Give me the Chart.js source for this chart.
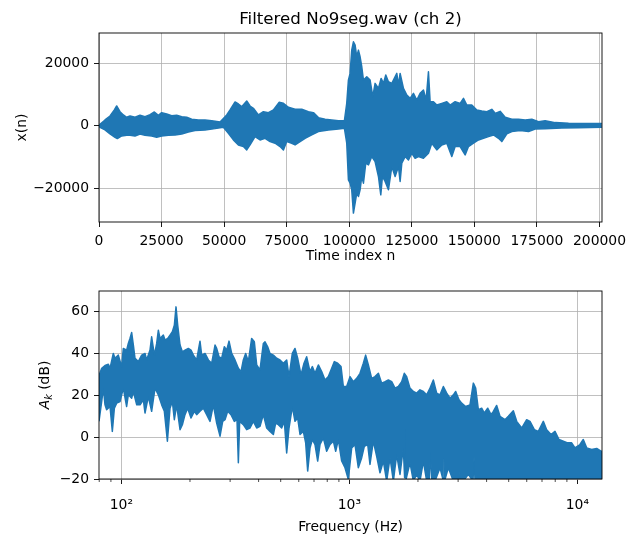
<!DOCTYPE html>
<html><head><meta charset="utf-8">
<script src="https://cdn.jsdelivr.net/npm/chart.js@4.4.0/dist/chart.umd.min.js"></script>
<style>
html,body{margin:0;padding:0;background:#fff;}
#wrap{position:relative;width:635px;height:538px;overflow:hidden;}
#c1{position:absolute;left:0;top:0;}
#c2{position:absolute;left:0;top:270px;}
</style></head><body>
<div id="wrap"><canvas id="c1" width="635" height="270"></canvas><canvas id="c2" width="635" height="268"></canvas></div>
<script>
// ---------- Top plot: time-signal envelope ----------
const topUpperN = [0,400,2400,4400,6130,7060,8400,9730,11060,12390,14390,16390,18390,20390,22120,23720,25050,27050,29050,31050,33050,35040,37040,39710,42370,45040,48370,51030,52370,54370,55700,57030,59030,60360,61690,63690,65690,67690,69690,71960,73690,75690,78350,81020,83680,85680,87680,90350,93010,95680,98070,99000,99670,100340,101000,101670,102340,103000,103670,104330,105000,105670,107000,108330,109400,110330,111670,112730,113660,114600,115660,117000,117660,119000,119660,120330,121660,123000,124320,125650,126990,128320,129650,130720,131650,132320,133650,134980,136980,138980,140310,142310,144310,145640,146970,148970,150970,152970,154970,156970,158300,160300,162300,164960,167630,170300,172960,175630,178290,182290,187620,192950,200940];
const topUpperV = [0,400,1810,3080,5000,6270,4460,3400,2660,3080,2660,3300,2870,3510,4360,3300,4150,3720,3190,3300,2870,2660,2020,1810,1810,1590,1170,3400,5000,7550,6910,6060,7870,6270,5530,3400,4460,4150,5000,7440,7120,5850,5210,5210,4460,4150,2550,2020,1810,1590,1590,7120,14560,16690,24130,26790,25720,22000,24130,22000,18820,14560,15630,14560,9250,13500,11910,15090,13500,16160,14030,13500,14560,16690,12970,16690,11910,9780,8720,10310,8190,10310,11370,8190,17220,7650,7650,6590,7120,7650,6590,7650,7120,8720,6590,6590,5000,4680,4460,5210,3930,4570,2660,2020,2020,1810,2020,1280,1590,960,740,640,640];
const topLowerN = [0,400,2400,4400,6400,7330,9060,11730,14390,16390,18390,21050,23050,25050,27720,30380,33050,35710,38380,42370,46370,49700,51700,53700,55700,57700,59030,60360,62360,64360,66360,68360,70360,72350,73690,75020,77020,78350,80350,82350,85010,87680,91680,95680,98070,99000,99670,100340,101000,101670,102340,103000,103670,104330,105000,105670,106600,107670,109000,110330,111670,112600,113260,114330,115660,117000,118330,119660,120330,121000,122320,123660,124990,126320,127650,129650,131650,132980,134980,136980,138980,140980,142310,144310,146310,147640,149640,151640,153640,155640,157640,159640,160970,162970,164960,168300,171630,174290,178290,184950,191610,200940];
const topLowerV = [0,-530,-1380,-2660,-3720,-4150,-3300,-2980,-3300,-2660,-3080,-3300,-3720,-3300,-3080,-2980,-2660,-2020,-1590,-1380,-960,-530,-2440,-4570,-6170,-6700,-7760,-6170,-3510,-4570,-4040,-5100,-5630,-6700,-7760,-5100,-5630,-6170,-5100,-4040,-2980,-1910,-1380,-1060,-850,-5630,-17330,-18390,-20520,-27960,-24770,-21580,-22640,-20520,-16260,-18390,-12010,-12540,-9890,-11480,-16260,-22110,-16260,-17860,-20520,-13070,-16260,-13070,-17860,-12010,-9890,-10950,-8820,-10420,-9890,-10420,-8820,-5630,-7760,-6170,-5630,-9890,-6700,-6700,-9350,-6700,-5630,-4570,-4040,-3510,-2980,-4040,-5100,-2660,-1910,-1590,-1910,-1060,-960,-740,-640,-530];
const topXTicks = [0,25000,50000,75000,100000,125000,150000,175000,200000];
const topYTicks = [-20000,0,20000];

// ---------- Bottom plot: spectrum envelope ----------
const specUpperF  = [79.8,82.0,84.8,87.7,89.2,92.2,93.8,97.0,100.3,102.0,105.5,107.3,109.1,111.0,112.9,114.8,118.7,122.8,127.0,129.1,133.6,135.8,139.6,142.9,145.3,147.8,150.3,152.8,155.4,159.7,163.5,167.4,170.8,173.7,176.7,180.9,185.2,190.2,196.7,202.1,207.0,214.0,221.3,225.1,232.8,240.8,249.0,257.6,261.9,268.2,275.5,283.0,289.7,296.7,304.8,315.1,326.0,334.9,342.8,351.0,360.6,372.9,383.1,392.3,405.7,419.6,426.7,438.4,448.8,464.2,480.1,496.5,513.5,531.1,543.8,562.3,577.7,593.4,613.8,632.7,650.0,672.3,688.3,707.1,731.3,756.4,782.3,809.1,836.8,859.6,889.0,919.5,941.3,973.5,1007,1041,1077,1114,1152,1179,1212,1253,1296,1341,1386,1434,1483,1534,1586,1641,1697,1743,1784,1845,1909,1974,2041,2112,2184,2259,2336,2416,2499,2585,2673,2764,2859,2927,3027,3109,3237,3382,3499,3582,3680,3806,3910,4044,4182,4282,4428,4580,4816,4982,5240,5420,5700,5996,6200,6477,6745,7093,7337,7665,7980,8310,8682,9070,9443,9767,10270,10620,10990,11560,12160,12700,12830];
const specUpperDb = [29.5,33.0,34.3,34.9,33.0,40.1,37.8,39.3,33.8,42.5,41.7,44.9,47.3,50.1,44.1,37.8,36.2,39.3,40.1,37.0,41.7,48.1,39.3,44.9,51.2,47.3,48.1,48.9,46.5,47.3,48.9,50.5,53.6,62.4,53.6,44.1,40.9,41.7,42.5,41.7,39.3,37.0,46.0,39.3,40.1,37.0,35.4,44.1,42.5,38.5,37.8,43.3,41.7,46.0,40.1,37.0,33.0,31.4,37.0,40.1,36.2,47.3,45.7,34.6,32.2,44.9,45.7,43.3,40.1,39.3,37.8,37.0,35.4,37.0,29.0,40.1,42.5,37.8,29.8,35.4,38.5,31.4,33.8,30.6,34.6,31.4,27.4,29.0,33.0,36.2,35.4,33.8,24.3,24.3,29.0,26.6,28.2,30.6,35.4,39.3,34.6,28.2,29.0,30.6,25.9,26.6,27.4,26.6,23.5,24.3,26.6,30.6,29.0,23.5,21.9,21.1,22.7,21.9,20.3,23.5,27.4,21.1,20.3,24.3,21.1,18.7,20.3,21.9,17.9,16.3,14.7,15.5,25.9,23.5,13.2,13.9,11.6,13.9,10.8,12.4,15.2,10.0,8.4,10.0,12.7,7.6,4.4,8.4,7.6,3.6,2.8,7.6,3.6,1.3,2.8,-1.1,-1.9,-2.7,-2.7,-5.1,-3.5,-1.1,-5.1,-5.9,-5.4,-6.7,-6.7];
const specLowerF  = [79.8,82.0,83.4,84.8,86.2,89.2,91.3,93.2,95.4,98.7,102.0,105.5,107.3,111.0,112.9,116.8,120.8,124.9,127.0,131.3,135.8,140.5,145.3,150.3,154.4,159.2,163.5,167.4,170.8,174.8,180.9,185.2,190.2,195.4,202.1,209.0,214.0,221.3,228.9,236.7,244.9,253.3,261.9,270.9,278.3,284.9,292.7,302.7,313.1,321.6,326.0,330.4,342.8,354.5,366.7,379.3,392.3,405.7,419.6,434.0,448.8,464.2,475.3,488.2,504.9,518.7,531.1,543.8,562.3,577.7,593.4,607.6,628.4,643.5,656.6,672.3,688.3,707.1,726.4,743.6,769.1,795.5,822.8,851.0,871.3,895.1,925.6,957.2,990.0,1024,1059,1095,1133,1164,1204,1232,1274,1318,1363,1410,1458,1508,1560,1613,1668,1725,1748,1760,1773,1845,1909,1974,2041,2112,2184,2240,2270,2300,2375,2499,2585,2600,2615,2718,2859,3040,3058,3075,3162,3326,3487,3523,3559,12830];
const specLowerDb = [7.6,17.1,23.5,15.5,13.2,14.7,2.8,13.9,16.3,17.1,23.5,14.7,20.3,18.7,21.9,15.5,15.5,17.9,11.6,19.5,12.4,23.5,20.3,15.5,12.4,-1.9,13.9,17.1,8.4,15.5,3.6,6.0,10.8,13.9,9.2,12.4,10.8,12.4,13.9,10.8,7.6,15.5,6.8,0.5,7.6,8.4,12.4,10.8,7.6,8.4,-12.2,7.6,6.0,3.6,4.4,7.6,4.4,5.2,10.8,4.4,2.8,1.3,6.8,6.0,4.4,7.6,-7.5,4.4,14.7,7.6,9.2,1.3,2.8,-2.7,-16.2,-5.1,-1.1,-3.5,-11.4,-3.5,-0.3,-6.7,-3.5,-1.9,-6.7,-1.1,-11.4,-14.6,-20.2,-5.1,-3.5,-14.6,-9.8,-4.3,-3.5,-13.0,-1.9,-9.1,-17.0,-11.4,-21,-9.8,-21,-8.3,-17.8,-5.1,-19.4,4.4,-20.2,-12.2,-21,-17.8,-21,-11.4,-21,-21,-7,-21,-21,-14.6,-21,-10,-21,-14.6,-21,-21,-16.2,-21,-21,-17.8,-21,-9.1,-21,-21];
const botXTicks = [100,1000,10000];
const botXTickLabels = ['10\u00B2','10\u00B3','10\u2074'];
const botXMinor = [80,90,200,300,400,500,600,700,800,900,2000,3000,4000,5000,6000,7000,8000,9000];
const botYTicks = [-20,0,20,40,60];

const BLUE = '#1f77b4';
const FONT = 'DejaVu Sans';
const tickFont = {family: FONT, size: 13.9};
const minus = v => (v < 0 ? '\u2212' + Math.abs(v) : String(v));

const framePlugin = {
  id: 'frame',
  afterDatasetsDraw(chart) {
    const a = chart.chartArea, ctx = chart.ctx;
    ctx.save();
    ctx.strokeStyle = '#000'; ctx.lineWidth = 0.9;
    ctx.strokeRect(a.left, a.top, a.right - a.left, a.bottom - a.top);
    ctx.restore();
  }
};

function pts(xs, ys) { return xs.map((x, i) => ({x: x, y: ys[i]})); }
function gridOpts() {
  return {color: '#b0b0b0', lineWidth: 0.8, tickColor: '#000', tickLength: 5, tickWidth: 0.9, drawTicks: true};
}
function envelope(up, lo) {
  return [
    {data: up, borderColor: BLUE, backgroundColor: BLUE, borderWidth: 1.5, pointRadius: 0, fill: '+1', tension: 0, borderJoinStyle: 'round'},
    {data: lo, borderColor: BLUE, backgroundColor: BLUE, borderWidth: 1.5, pointRadius: 0, fill: false, tension: 0, borderJoinStyle: 'round'}
  ];
}

// ---------- Top chart ----------
new Chart(document.getElementById('c1'), {
  type: 'line',
  data: {datasets: envelope(pts(topUpperN, topUpperV), pts(topLowerN, topLowerV))},
  options: {
    responsive: false, animation: false, events: [],
    layout: {padding: {left: 0, right: 33, top: 33, bottom: 0}},
    plugins: {legend: {display: false}, tooltip: {enabled: false}},
    scales: {
      x: {type: 'linear', min: 0, max: 201000,
        afterFit: s => { s.height = 48; },
        afterBuildTicks: s => { s.ticks = topXTicks.map(v => ({value: v})); },
        ticks: {font: tickFont, color: '#000', padding: 6, maxRotation: 0, autoSkip: false, callback: v => minus(v)},
        grid: gridOpts(), border: {display: false},
        title: {display: true, text: 'Time index n', font: tickFont, color: '#000', padding: {top: 0, bottom: 5}}
      },
      y: {type: 'linear', min: -30800, max: 29600,
        afterFit: s => { s.width = 99; },
        afterBuildTicks: s => { s.ticks = topYTicks.map(v => ({value: v})); },
        ticks: {font: tickFont, color: '#000', padding: 5, autoSkip: false, callback: v => minus(v)},
        grid: gridOpts(), border: {display: false},
        title: {display: true, text: 'x(n)', font: tickFont, color: '#000', padding: {top: 14, bottom: 0}}
      }
    }
  },
  plugins: [framePlugin, {
    id: 'titleText',
    afterDraw(chart) {
      const a = chart.chartArea, ctx = chart.ctx;
      ctx.save();
      ctx.font = '16.67px "' + FONT + '"';
      ctx.fillStyle = '#000'; ctx.textAlign = 'center'; ctx.textBaseline = 'alphabetic';
      ctx.fillText('Filtered No9seg.wav (ch 2)', (a.left + a.right) / 2, a.top - 9);
      ctx.restore();
    }
  }]
});

// ---------- Bottom chart ----------
new Chart(document.getElementById('c2'), {
  type: 'line',
  data: {datasets: envelope(pts(specUpperF, specUpperDb), pts(specLowerF, specLowerDb))},
  options: {
    responsive: false, animation: false, events: [],
    layout: {padding: {left: 0, right: 33, top: 21, bottom: 0}},
    plugins: {legend: {display: false}, tooltip: {enabled: false}},
    scales: {
      x: {type: 'logarithmic', min: 79.8, max: 12830,
        afterFit: s => { s.height = 59; },
        afterBuildTicks: s => { s.ticks = botXTicks.map(v => ({value: v})); },
        ticks: {font: tickFont, color: '#000', padding: 13, maxRotation: 0, autoSkip: false,
          callback: (v) => { const i = botXTicks.indexOf(v); return i >= 0 ? botXTickLabels[i] : ''; }},
        grid: gridOpts(), border: {display: false},
        title: {display: true, text: 'Frequency (Hz)', font: tickFont, color: '#000', padding: {top: 0, bottom: 2}}
      },
      y: {type: 'linear', min: -20, max: 70,
        afterFit: s => { s.width = 99; },
        afterBuildTicks: s => { s.ticks = botYTicks.map(v => ({value: v})); },
        ticks: {font: tickFont, color: '#000', padding: 5, autoSkip: false, callback: v => minus(v)},
        grid: gridOpts(), border: {display: false}
      }
    }
  },
  plugins: [framePlugin, {
    id: 'extras',
    afterDraw(chart) {
      const a = chart.chartArea, ctx = chart.ctx, xs = chart.scales.x;
      ctx.save();
      ctx.strokeStyle = '#000'; ctx.lineWidth = 0.7;
      botXMinor.forEach(v => {
        const p = xs.getPixelForValue(v);
        if (p >= a.left - 0.5 && p <= a.right + 0.5) {
          ctx.beginPath(); ctx.moveTo(p, a.bottom); ctx.lineTo(p, a.bottom + 3); ctx.stroke();
        }
      });
      const big = '13.9px "' + FONT + '"', ital = 'oblique 13.9px "' + FONT + '"', sub = 'oblique 9.7px "' + FONT + '"';
      ctx.font = ital; const wA = ctx.measureText('A').width;
      ctx.font = sub; const wk = ctx.measureText('k').width;
      ctx.font = big; const wr = ctx.measureText(' (dB)').width;
      const total = wA + wk + wr;
      ctx.translate(49, (a.top + a.bottom) / 2);
      ctx.rotate(-Math.PI / 2);
      ctx.fillStyle = '#000'; ctx.textAlign = 'left'; ctx.textBaseline = 'alphabetic';
      let x = -total / 2;
      ctx.font = ital; ctx.fillText('A', x, 0); x += wA;
      ctx.font = sub; ctx.fillText('k', x, 3); x += wk;
      ctx.font = big; ctx.fillText(' (dB)', x, 0);
      ctx.restore();
    }
  }]
});
</script>
</body></html>
